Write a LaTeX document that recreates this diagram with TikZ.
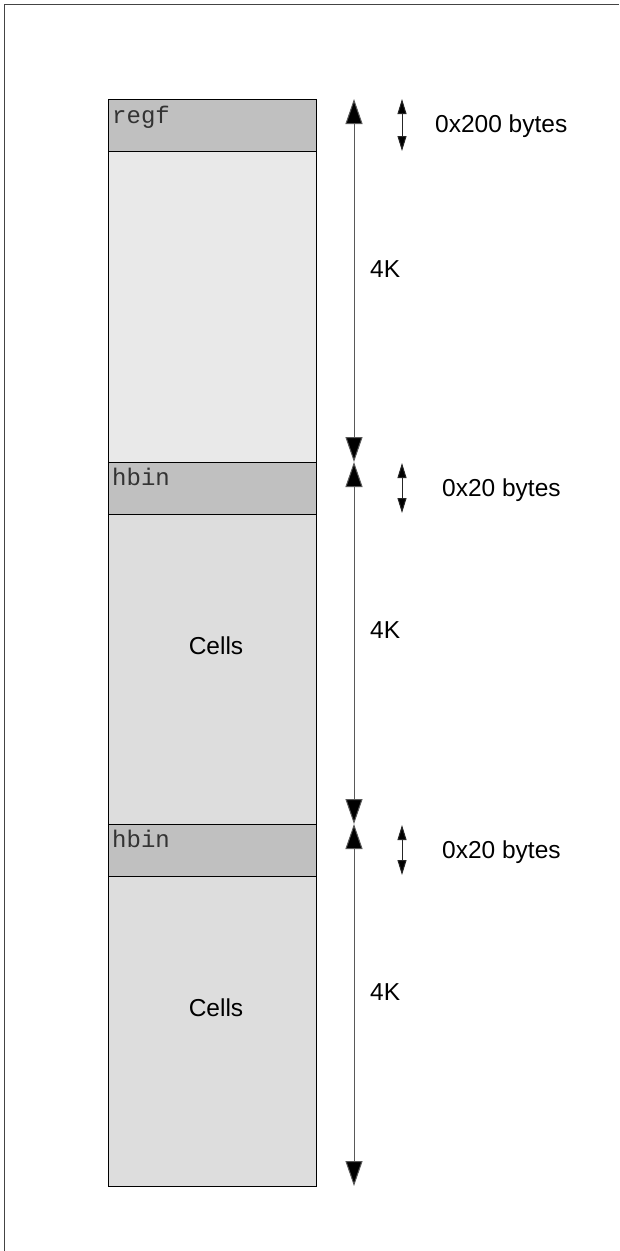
\documentclass[tikz,border=0pt]{standalone}
\usepackage{fontspec}
\setmainfont{Liberation Sans}
\setmonofont{Liberation Mono}
\usetikzlibrary{arrows.meta}
\definecolor{hdrgray}{HTML}{C0C0C0}
\definecolor{lightfill}{HTML}{E9E9E9}
\definecolor{cellfill}{HTML}{DDDDDD}
\definecolor{framegray}{HTML}{444444}
\tikzset{
  blk/.style={draw=black, line width=0.9pt, anchor=north west, minimum width=208pt, inner sep=0pt, outer sep=0pt},
  hdr/.style={blk, fill=hdrgray, minimum height=52pt},
  hdrlabel/.style={anchor=base west, inner sep=0pt, font=\fontsize{24}{24}\selectfont\ttfamily\color{black!80}},
  biglabel/.style={font=\fontsize{24.5}{26}\selectfont, inner sep=0pt},
  bigarrow/.style={draw=black!65, line width=1pt, {Triangle[width=17pt,length=25pt,fill=black]}-{Triangle[width=17pt,length=25pt,fill=black]}},
  smallarrow/.style={draw=black!85, line width=1pt, {Triangle[width=9pt,length=15pt,fill=black]}-{Triangle[width=9pt,length=15pt,fill=black]}},
}
\begin{document}
\begin{tikzpicture}[x=1pt,y=-1pt]
\useasboundingbox (0,0) rectangle (619,1251);
% frame
\draw[framegray, line width=1.8pt] (4.5,1251) -- (4.5,4.5) -- (619,4.5);
% blocks
\node[blk, fill=lightfill, minimum height=311pt] (free) at (108,151) {};
\node[hdr] (regf) at (108,99) {};
\node[hdrlabel] (regft) at (112,123) {regf};
\node[blk, fill=cellfill, minimum height=310pt] (cells1) at (108,514) {};
\node[hdr] (hbin1) at (108,462) {};
\node[hdrlabel] (hbin1t) at (112,485) {hbin};
\node[blk, fill=cellfill, minimum height=310pt] (cells2) at (108,876) {};
\node[hdr] (hbin2) at (108,824) {};
\node[hdrlabel] (hbin2t) at (112,847) {hbin};
\node[biglabel] (c1t) at (216,646) {Cells};
\node[biglabel] (c2t) at (216,1008) {Cells};
% big arrows
\coordinate (b0) at (354,99);
\coordinate (b1) at (354,462);
\coordinate (b2) at (354,824);
\coordinate (b3) at (354,1186);
\draw[bigarrow] (b0) -- (b1);
\draw[bigarrow] (b1) -- (b2);
\draw[bigarrow] (b2) -- (b3);
\node[biglabel, anchor=west] (k1) at (370,269) {4K};
\node[biglabel, anchor=west] (k2) at (370,630) {4K};
\node[biglabel, anchor=west] (k3) at (370,992) {4K};
% small arrows
\coordinate (s0a) at (402,99);
\coordinate (s0b) at (402,151);
\coordinate (s1a) at (402,463);
\coordinate (s1b) at (402,513);
\coordinate (s2a) at (402,825);
\coordinate (s2b) at (402,875);
\draw[smallarrow] (s0a) -- (s0b);
\draw[smallarrow] (s1a) -- (s1b);
\draw[smallarrow] (s2a) -- (s2b);
\node[biglabel, anchor=west] (l0) at (435,126) {0x200 bytes};
\node[biglabel, anchor=west] (l1) at (442,490) {0x20 bytes};
\node[biglabel, anchor=west] (l2) at (442,852) {0x20 bytes};
\end{tikzpicture}
\end{document}
